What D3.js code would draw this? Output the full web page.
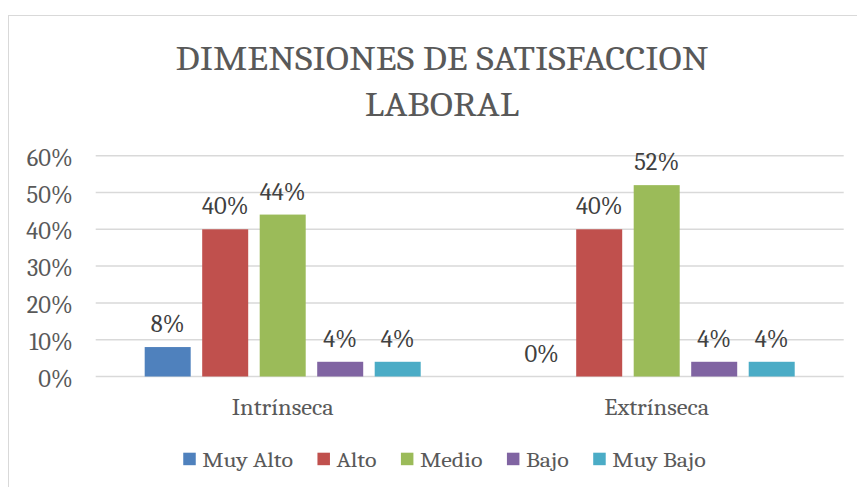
<!DOCTYPE html>
<html><head><meta charset="utf-8">
<script src="https://cdn.jsdelivr.net/npm/d3@7"></script>
<style>html,body{margin:0;padding:0;background:#fff;} svg{display:block;}</style>
</head><body>
<svg id="chart" width="857" height="487"></svg>
<script>
const categories = ["Intrínseca", "Extrínseca"];
const seriesNames = ["Muy Alto", "Alto", "Medio", "Bajo", "Muy Bajo"];
const muyAlto = [0.08, 0.00];
const alto = [0.40, 0.40];
const medio = [0.44, 0.52];
const bajo = [0.04, 0.04];
const muyBajo = [0.04, 0.04];
const yTicks = [0, 0.1, 0.2, 0.3, 0.4, 0.5, 0.6];
const titleLines = ["DIMENSIONES DE SATISFACCION", "LABORAL"];
const colors = ["#4f81bd", "#c0504d", "#9bbb59", "#8064a2", "#4bacc6"];

const seriesValues = [muyAlto, alto, medio, bajo, muyBajo];
const data = categories.map((c, i) => ({
  cat: c,
  vals: seriesNames.map((s, j) => ({ series: s, idx: j, value: seriesValues[j][i] }))
}));

const svg = d3.select("#chart");
const FONT = "\"Cambria\", \"Caladea\", \"Liberation Serif\", serif";
const TXT = "#595959";

function measure(str, size) {
  const t = svg.append("text").style("font-family", FONT).style("font-size", size + "px").text(str);
  const w = t.node().getComputedTextLength();
  t.remove();
  return w;
}
function styleText(sel, size, color) {
  return sel.style("font-family", FONT).style("font-size", size + "px").attr("fill", color);
}
function widen(sel, factor) {
  sel.each(function () {
    const L = this.getComputedTextLength();
    d3.select(this).attr("textLength", L * factor).attr("lengthAdjust", "spacingAndGlyphs");
  });
}

// chart border
svg.append("rect").attr("x", 8.5).attr("y", 15.5).attr("width", 1000).attr("height", 1000)
  .attr("fill", "#fff").attr("stroke", "#d9d9d9").attr("stroke-width", 1);

const plot = { left: 95.7, right: 843.7, top: 155.7, bottom: 376.5 };

const x0 = d3.scaleBand().domain(categories).range([plot.left, plot.right]).padding(0);
const x1 = d3.scaleBand().domain(seriesNames).range([0, x0.bandwidth()])
  .paddingInner(0.2).paddingOuter(0.852);
const y = d3.scaleLinear().domain([0, 0.6]).range([plot.bottom, plot.top]);
const fmt = d3.format(".0%");

const kNum = 46 / measure("60%", 24);
const kCat = 102 / measure("Intrínseca", 23);
const kLeg = 90.7 / measure("Muy Alto", 21);
const kTitle = 533 / measure(titleLines[0], 33);

// gridlines
svg.append("g").selectAll("line").data(yTicks).join("line")
  .attr("x1", plot.left).attr("x2", plot.right)
  .attr("y1", d => y(d)).attr("y2", d => y(d))
  .attr("stroke", "#d9d9d9").attr("stroke-width", 1.5);

// y axis labels
const yAxis = d3.axisLeft(y).tickValues(yTicks).tickFormat(fmt).tickSize(0).tickPadding(0);
const gy = svg.append("g").attr("transform", "translate(72.7,0)").call(yAxis);
gy.select(".domain").remove();
styleText(gy.selectAll("text"), 24, TXT).attr("dy", null).attr("y", 9.5).attr("text-anchor", "end");
widen(gy.selectAll("text"), kNum);

// bars
const groups = svg.append("g").selectAll("g").data(data).join("g")
  .attr("transform", d => `translate(${x0(d.cat)},0)`);
groups.selectAll("rect").data(d => d.vals).join("rect")
  .attr("x", d => x1(d.series)).attr("width", x1.bandwidth())
  .attr("y", d => y(d.value)).attr("height", d => y(0) - y(d.value))
  .attr("fill", d => colors[d.idx]);

// data labels
const dl = groups.selectAll("text").data(d => d.vals).join("text")
  .attr("x", d => x1(d.series) + x1.bandwidth() / 2)
  .attr("y", d => y(d.value) - 15)
  .attr("text-anchor", "middle").text(d => fmt(d.value));
styleText(dl, 24, "#404040");
widen(dl, kNum);

// category labels
const xAxis = d3.axisBottom(x0).tickSize(0).tickPadding(0);
const gx = svg.append("g").call(xAxis);
gx.select(".domain").remove();
styleText(gx.selectAll("text"), 23, TXT).attr("dy", null).attr("y", 415);
widen(gx.selectAll("text"), kCat);

// title
const tl = svg.append("g").selectAll("text").data(titleLines).join("text")
  .attr("x", 442).attr("y", (d, i) => 70 + i * 46)
  .attr("text-anchor", "middle").text(d => d);
styleText(tl, 33, TXT);
widen(tl, kTitle);

// legend
const legend = svg.append("g");
const items = legend.selectAll("g").data(seriesNames).join("g");
items.append("rect").attr("width", 12.5).attr("height", 12.5).attr("y", 452.7)
  .attr("fill", (d, i) => colors[i]);
const ltxt = items.append("text").attr("x", 19).attr("y", 466.7).text(d => d);
styleText(ltxt, 21, TXT);
widen(ltxt, kLeg);
let widths = [];
ltxt.each(function () { widths.push(19 + (+this.getAttribute("textLength"))); });
const gap = 24.5;
const total = d3.sum(widths) + gap * (widths.length - 1);
let cx = 444.5 - total / 2;
items.each(function (d, i) {
  d3.select(this).attr("transform", `translate(${cx},0)`);
  cx += widths[i] + gap;
});
</script>
</body></html>
